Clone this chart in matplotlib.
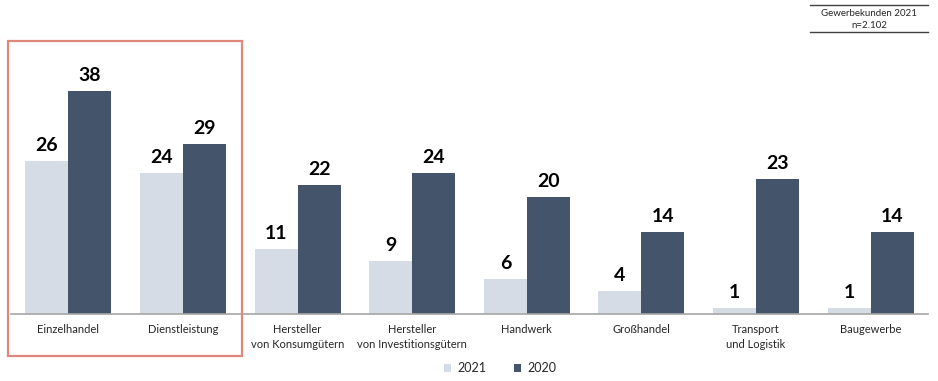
import matplotlib
matplotlib.use("Agg")
from matplotlib import pyplot as plt
from matplotlib.patches import Rectangle
from matplotlib.lines import Line2D
import numpy as np

plt.rcParams['font.family'] = ['Lato', 'DejaVu Sans']

# Daten
kategorien = ["Einzelhandel", "Dienstleistung", "Hersteller\nvon Konsumgütern",
              "Hersteller\nvon Investitionsgütern", "Handwerk", "Großhandel",
              "Transport\nund Logistik", "Baugewerbe"]
werte_2021 = [26, 24, 11, 9, 6, 4, 1, 1]
werte_2020 = [38, 29, 22, 24, 20, 14, 23, 14]
jahre = ["2021", "2020"]

hell = '#d6dce5'
dunkel = '#44546a'

fig = plt.figure(figsize=(9.38, 3.81), dpi=100)
W, H = 938, 381
# Achse: Grundlinie bei y=314 px, x von 11 bis 928 px
ax = fig.add_axes([11 / W, (H - 314) / H, (928 - 11) / W, 284 / H])

x = np.arange(len(kategorien))
b = 0.375
bars1 = ax.bar(x - b / 2, werte_2021, b, color=hell, label=jahre[0])
bars2 = ax.bar(x + b / 2, werte_2020, b, color=dunkel, label=jahre[1])

for bars in (bars1, bars2):
    for r in bars:
        ax.annotate(str(int(r.get_height())), (r.get_x() + r.get_width() / 2, r.get_height()),
                    xytext=(0, 5), textcoords='offset points', ha='center', va='bottom',
                    fontsize=14, fontweight='bold', color='black')

ax.set_xlim(-0.5, len(kategorien) - 0.5)
ax.set_ylim(0, 284 / 5.87)
for s in ['top', 'right', 'left']:
    ax.spines[s].set_visible(False)
ax.spines['bottom'].set_color('#a6a6a6')
ax.spines['bottom'].set_linewidth(1.2)
ax.set_yticks([])
ax.set_xticks(x)
ax.set_xticklabels(kategorien, fontsize=8, color='#262626', linespacing=1.5)
ax.tick_params(axis='x', length=0, pad=7)

# Legende
fig.legend(loc='center', bbox_to_anchor=(500 / W, (H - 368) / H), ncol=2, frameon=False,
           fontsize=9, handlelength=0.6, handleheight=0.6, handletextpad=0.5,
           columnspacing=2.2, labelcolor='#262626')

# roter Rahmen um die ersten zwei Kategorien
fig.patches.append(Rectangle((8 / W, (H - 356) / H), 234 / W, 315 / H, fill=False,
                             edgecolor='#e0877c', linewidth=1.6, transform=fig.transFigure))

# Box oben rechts
for yy in (5, 32):
    fig.add_artist(Line2D([810 / W, 928 / W], [(H - yy) / H] * 2, color='#404040',
                          linewidth=1.0, transform=fig.transFigure))
fig.text(869 / W, (H - 14) / H, "Gewerbekunden 2021", ha='center', va='center', fontsize=7, color='#262626')
fig.text(869 / W, (H - 25) / H, "n=2.102", ha='center', va='center', fontsize=7, color='#262626')

plt.savefig('out.png', dpi=100)
